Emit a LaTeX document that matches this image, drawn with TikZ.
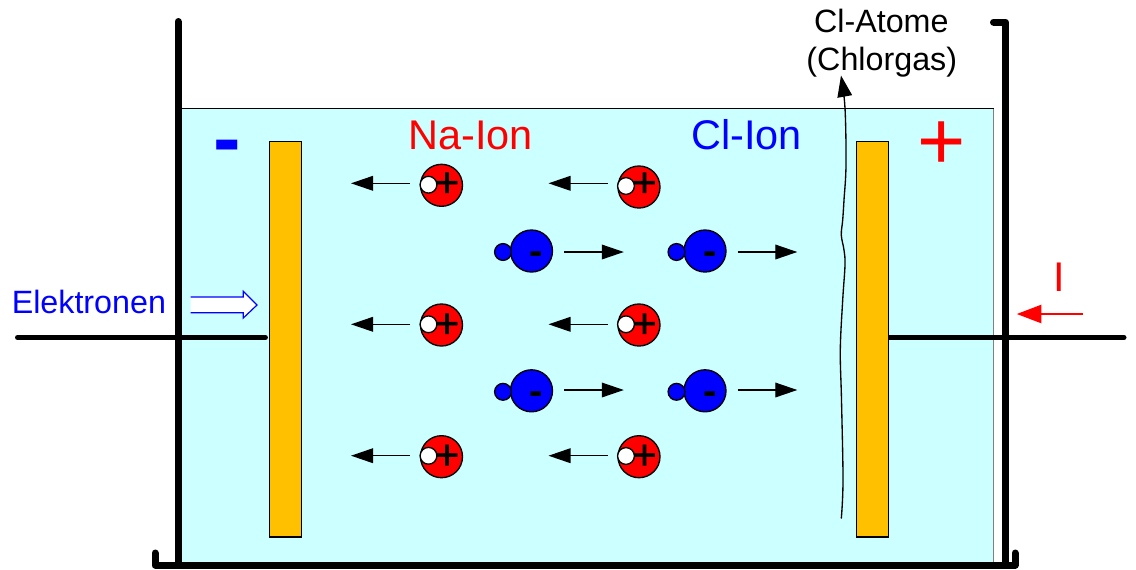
\documentclass[tikz,border=0pt]{standalone}
\usepackage{fontspec}
\setmainfont{Liberation Sans}
\newfontfamily\plusfont[FakeBold=1.5]{Liberation Sans}
\usetikzlibrary{arrows.meta,calc}
\definecolor{water}{HTML}{CCFFFF}
\definecolor{plate}{HTML}{FFC000}
\tikzset{
  x=.75pt,y=-.75pt,
  wallline/.style={line width=5.25pt,line cap=round,line join=round},
  wireline/.style={line width=3.75pt,line cap=round},
  plate/.style={draw=black,line width=1.1pt,fill=plate,minimum width=24pt,minimum height=296.6pt,inner sep=0pt,rectangle},
  naion/.style={circle,draw=black,line width=1pt,fill=red,minimum size=31.5pt,inner sep=0pt},
  clion/.style={circle,draw=black,line width=1pt,fill=blue,minimum size=31.5pt,inner sep=0pt},
  electron/.style={circle,draw=black,line width=1pt,minimum size=12.6pt,inner sep=0pt},
  pluscharge/.style={font=\plusfont\fontsize{31}{31}\selectfont,inner sep=0pt,text=black},
  minuscharge/.style={font=\fontsize{30}{30}\selectfont\bfseries,inner sep=0pt,text=black},
  bigminus/.style={font=\fontsize{62}{62}\selectfont\bfseries,inner sep=0pt},
  bigplus/.style={font=\fontsize{62}{62}\selectfont,inner sep=0pt},
  ionarrow/.style={line width=1pt,-{Triangle[length=16.5pt,width=11pt]}},
  label/.style={inner sep=0pt,font=\fontsize{24.2}{28}\selectfont},
  biglabel/.style={inner sep=0pt,font=\fontsize{31.1}{34}\selectfont},
}
% name, x, y, arrow offset, electron offset
\newcommand{\naion}[5]{%
  \node[naion] (#1) at (#2,#3) {};
  \node[pluscharge] (#1p) at ($(#1)+(5.5,#4+1.2)$) {+};
  \node[electron,fill=white] (#1e) at ($(#1)+(-13,#5)$) {};
  \coordinate (#1s) at ($(#1)+(-31.5,#4)$);
  \coordinate (#1t) at ($(#1)+(-90.5,#4)$);
  \draw[ionarrow] (#1s) -- (#1t);
}
% name, x, y, arrow offset
\newcommand{\clion}[4]{%
  \node[clion] (#1) at (#2,#3) {};
  \node[minuscharge] (#1m) at ($(#1)+(5,7.2)$) {-};
  \node[electron,fill=blue] (#1e) at ($(#1)+(-28.5,1)$) {};
  \coordinate (#1s) at ($(#1)+(32.5,#4)$);
  \coordinate (#1t) at ($(#1)+(92.3,#4)$);
  \draw[ionarrow] (#1s) -- (#1t);
}
\begin{document}
\begin{tikzpicture}
\useasboundingbox (0,0) rectangle (1136,569);
% water
\fill[water] (180,108.5) rectangle (993.5,563);
\draw[black,line width=.8pt] (180,108.5) -- (993.5,108.5);
\draw[gray,line width=.8pt] (993.5,108.5) -- (993.5,563);
% tank
\draw[wallline] (155,553) -- (155,565) -- (1015,565) -- (1015,553);
\draw[wallline] (178,21.5) -- (178,565);
\draw[wallline] (993.5,22) -- (1005.5,22) -- (1005.5,565);
% electrodes and wires
\node[plate] (elecL) at (285.5,339.25) {};
\node[plate] (elecR) at (872.5,339.25) {};
\coordinate (wireL) at (17.5,337.5);
\coordinate (wireR) at (1124,337.5);
\draw[wireline,shorten >=2.5pt] (wireL) -- (elecL.west |- wireL);
\draw[wireline] (wireR) -- (elecR.east |- wireR);
\node[plate] at (872.5,339.25) {};
% chlorine gas line
\draw[line width=1pt,-{Triangle[length=16pt,width=11pt]}] plot[smooth,tension=.6] coordinates
  {(841.3,518.5) (843,480) (841.5,400) (840.3,350) (842.7,300) (845,265) (844,250) (841.3,235) (842.7,220) (844,200) (846,165) (845,108) (841,75.5)};
% ions
\naion{na1}{441.5}{185.3}{-2}{-.6}
\naion{na2}{639}{187}{-3.7}{-1}
\naion{na3}{441.5}{325}{-.7}{-.7}
\naion{na4}{639}{325}{-.7}{-.7}
\naion{na5}{441.5}{456.7}{-1}{-.9}
\naion{na6}{639}{456.7}{-1}{-.7}
\clion{cl1}{531.5}{251}{1}
\clion{cl2}{705}{251}{1}
\clion{cl3}{531.5}{390.8}{-.8}
\clion{cl4}{705}{390.8}{-.8}
% labels
\node[biglabel,text=red,anchor=base west] (naL) at (408,149.5) {Na-Ion};
\node[biglabel,text=blue,anchor=base west] (clL) at (691,149.5) {Cl-Ion};
\node[bigminus,text=blue,anchor=base] (minus) at (227.5,166) {-};
\node[bigplus,text=red] (plus) at (941.3,145.5) {+};
\node[label,anchor=base] (atom) at (881.3,32.3) {Cl-Atome};
\node[label,anchor=base] (gas) at (881.8,70.3) {(Chlorgas)};
\node[label,text=blue,anchor=base west] (elek) at (11.5,313) {Elektronen};
% electron arrow
\coordinate (earrow) at (190.7,297);
\filldraw[draw=blue,fill=white,line width=.9pt] (earrow) -- (243.3,297) -- (243.3,291.3) -- (257,305) -- (243.3,318) -- (243.3,312.7) -- (190.7,312.7);
% current
\node[biglabel,text=red,anchor=base] (curr) at (1059,291) {I};
\coordinate (currS) at (1082.5,314);
\coordinate (currT) at (1016.7,314);
\draw[red,line width=1.9pt,-{Triangle[length=18.5pt,width=13.5pt]}] (currS) -- (currT);
\end{tikzpicture}
\end{document}
